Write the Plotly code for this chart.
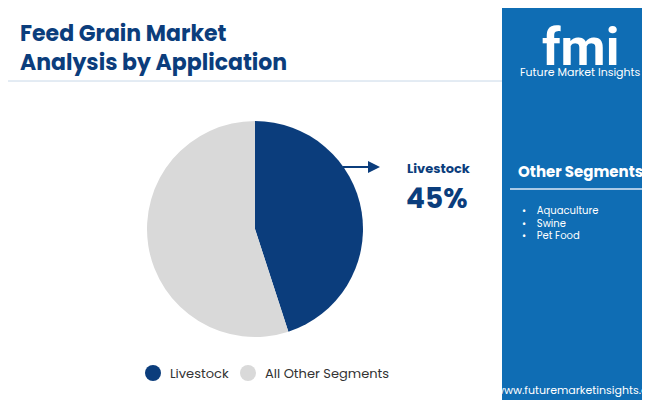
import plotly.graph_objects as go

labels = ["Livestock", "All Other Segments"]
values = [45, 55]
colors = ["#0b3d7c", "#d9d9d9"]
others = ["Aquaculture", "Swine", "Pet Food"]

W, H = 650, 400
def px(x): return x / W
def py(y): return 1 - y / H

fig = go.Figure(go.Pie(labels=labels, values=values, sort=False, direction="clockwise",
                       rotation=0, marker=dict(colors=colors), textinfo="none",
                       hoverinfo="label+percent", showlegend=False,
                       domain=dict(x=[px(139), px(355)], y=[py(329), py(113)])))

shapes = [
    dict(type="rect", xref="paper", yref="paper", x0=px(494), x1=1, y0=0, y1=1,
         fillcolor="#0f6db4", line_width=0, layer="below"),
    dict(type="line", xref="paper", yref="paper", x0=0, x1=px(494), y0=py(73), y1=py(73),
         line=dict(color="#c8d8e8", width=1)),
    dict(type="line", xref="paper", yref="paper", x0=px(502), x1=px(642), y0=py(181), y1=py(181),
         line=dict(color="#a9c9e6", width=2)),
    dict(type="rect", xref="paper", yref="paper", x0=0, x1=px(165), y0=0, y1=py(396),
         fillcolor="#8cc63f", line_width=0),
    dict(type="rect", xref="paper", yref="paper", x0=px(165), x1=px(330), y0=0, y1=py(396),
         fillcolor="#e8562a", line_width=0),
    dict(type="rect", xref="paper", yref="paper", x0=px(330), x1=px(494), y0=0, y1=py(396),
         fillcolor="#8b2d8f", line_width=0),
    dict(type="circle", xref="paper", yref="paper", x0=px(137), x1=px(153), y0=py(373), y1=py(357),
         fillcolor=colors[0], line_width=0),
    dict(type="circle", xref="paper", yref="paper", x0=px(232), x1=px(248), y0=py(373), y1=py(357),
         fillcolor=colors[1], line_width=0),
]

F = "Poppins, Roboto, Open Sans, sans-serif"
ann = [
    dict(text="<b>Feed Grain Market<br>Analysis by Application</b>", x=px(10), y=py(8),
         xanchor="left", yanchor="top", align="left",
         font=dict(size=22, color="#0b3d7c", family=F)),
    dict(text="<b>Livestock</b>", x=px(397), y=py(160), xanchor="left", yanchor="middle",
         font=dict(size=13, color="#0b3d7c", family=F)),
    dict(text="<b>45%</b>", x=px(396), y=py(190), xanchor="left", yanchor="middle",
         font=dict(size=28, color="#0b3d7c", family=F)),
    dict(text=labels[0], x=px(160), y=py(365), xanchor="left", yanchor="middle",
         font=dict(size=13, color="#333", family=F)),
    dict(text=labels[1], x=px(255), y=py(365), xanchor="left", yanchor="middle",
         font=dict(size=13, color="#333", family=F)),
    dict(text="<b>fmi</b>", x=px(572), y=py(40), xanchor="center", yanchor="middle",
         font=dict(size=52, color="white", family="Roboto")),
    dict(text="Future Market Insights", x=px(572), y=py(64), xanchor="center", yanchor="middle",
         font=dict(size=11, color="white", family=F)),
    dict(text="<b>Other Segments</b>", x=px(572), y=py(164), xanchor="center", yanchor="middle",
         font=dict(size=15, color="white", family=F)),
    dict(text="www.futuremarketinsights.com", x=px(572), y=py(382), xanchor="center", yanchor="middle",
         font=dict(size=11, color="white", family=F)),
]
for i, o in enumerate(others):
    ann.append(dict(text="•&nbsp;&nbsp;&nbsp;&nbsp;" + o, x=px(512), y=py(202 + i * 13), xanchor="left",
                    yanchor="middle", font=dict(size=10, color="white", family=F)))
ann.append(dict(x=px(372), y=py(159), ax=-39, ay=0, text="", showarrow=True, arrowhead=2,
                arrowsize=1.2, arrowwidth=2, arrowcolor="#0b3d7c"))
for a in ann:
    a.setdefault("xref", "paper"); a.setdefault("yref", "paper"); a.setdefault("showarrow", False)

fig.update_layout(width=W, height=H, margin=dict(l=0, r=0, t=0, b=0),
                  paper_bgcolor="white", plot_bgcolor="white",
                  shapes=shapes, annotations=ann)
fig.write_html("out.html")
